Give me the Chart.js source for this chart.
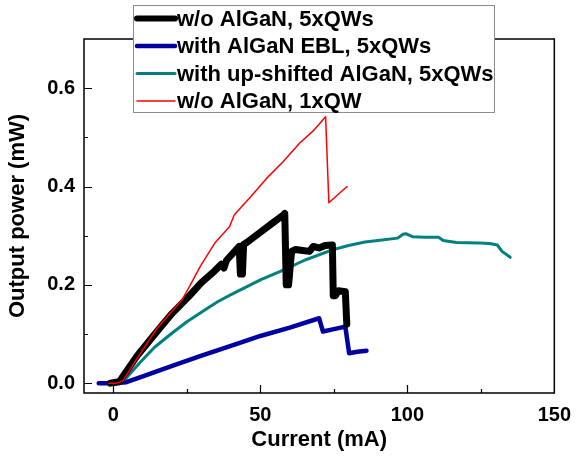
<!DOCTYPE html>
<html><head><meta charset="utf-8">
<script src="https://cdn.jsdelivr.net/npm/chart.js@4/dist/chart.umd.min.js"></script>
<style>html,body{margin:0;padding:0;background:#fff;}</style>
</head><body>
<canvas id="c" width="581" height="460"></canvas>
<script>
const seriesLabels = ['w/o AlGaN, 5xQWs', 'with AlGaN EBL, 5xQWs', 'with up-shifted AlGaN, 5xQWs', 'w/o AlGaN, 1xQW'];
const seriesColors = ['#000000', '#0000a0', '#008080', '#ff0000'];

const blackCurrent = [-1, 2, 3.3, 8, 14.4, 20, 25.6, 30, 34.4, 36.7, 37.6, 38.5, 42.8, 43.2, 43.9, 44.3, 45.6, 50, 54, 57.8, 58.3, 58.8, 59.6, 60.6, 62, 64.4, 66.7, 68, 70, 72, 74.5, 74.8, 75.5, 76.5, 78.9, 79.4];
const blackPower   = [0, 0.003, 0.014, 0.055, 0.102, 0.142, 0.176, 0.205, 0.228, 0.242, 0.234, 0.25, 0.278, 0.222, 0.222, 0.282, 0.287, 0.307, 0.325, 0.342, 0.345, 0.2, 0.2, 0.268, 0.272, 0.27, 0.268, 0.278, 0.275, 0.28, 0.281, 0.178, 0.178, 0.188, 0.186, 0.12];

const blueCurrent = [-5, 0, 4.4, 10, 20, 30, 42, 50, 60, 70, 71.3, 75, 78.9, 80.2, 83, 86.1];
const bluePower   = [0, 0, 0.002, 0.014, 0.035, 0.056, 0.08, 0.096, 0.113, 0.132, 0.105, 0.11, 0.115, 0.061, 0.064, 0.066];

const tealCurrent = [0, 2, 4, 8.9, 14, 20, 25, 31.1, 35.6, 40, 45.6, 50, 57.8, 65, 74.5, 80, 85.6, 90, 96.7, 98.5, 99.5, 101.7, 106, 110.6, 112.2, 116.7, 124.4, 128, 130.6, 132.2, 135];
const tealPower   = [0, 0.002, 0.008, 0.041, 0.073, 0.102, 0.125, 0.149, 0.166, 0.18, 0.197, 0.21, 0.23, 0.25, 0.271, 0.28, 0.287, 0.29, 0.295, 0.303, 0.304, 0.298, 0.297, 0.297, 0.29, 0.286, 0.285, 0.284, 0.281, 0.268, 0.256];

const redCurrent = [-1.5, 1, 3.3, 8, 14.4, 19, 23.3, 26, 29.5, 34.5, 39.5, 41.1, 46.7, 52.2, 57.8, 63.3, 67.8, 72.2, 73.3, 79.5];
const redPower   = [0, 0, 0.005, 0.05, 0.108, 0.14, 0.169, 0.198, 0.237, 0.285, 0.318, 0.342, 0.379, 0.417, 0.451, 0.488, 0.512, 0.542, 0.367, 0.40];

const xTickLabels = ['0', '50', '100', '150'];
const yTickLabels = ['0.0', '0.2', '0.4', '0.6'];

const FONT = '"Liberation Sans", Arial, sans-serif';
const widths = [7, 4.5, 3, 1.5];

function pts(xs, ys) { return xs.map((x, i) => ({ x: x, y: ys[i] })); }
const curves = [pts(blackCurrent, blackPower), pts(blueCurrent, bluePower), pts(tealCurrent, tealPower), pts(redCurrent, redPower)];
const drawOrder = [2, 3, 4, 1];

const frameTicks = {
  id: 'frameTicks',
  beforeDatasetsDraw(chart) {
    const { ctx, chartArea: a, scales: { x, y } } = chart;
    ctx.save();
    ctx.strokeStyle = '#000';
    ctx.lineWidth = 1.5;
    ctx.strokeRect(a.left, a.top, a.right - a.left, a.bottom - a.top);
    ctx.lineWidth = 1.2;
    ctx.beginPath();
    x.ticks.forEach(t => {
      if (t.value <= x.min || t.value >= x.max) return;
      const px = Math.round(x.getPixelForValue(t.value)) + 0.5;
      const L = (Math.round(t.value) % 50 === 0) ? 8 : 4;
      ctx.moveTo(px, a.bottom); ctx.lineTo(px, a.bottom - L);
    });
    y.ticks.forEach(t => {
      if (t.value <= y.min || t.value > 0.65) return;
      const py = Math.round(y.getPixelForValue(t.value)) + 0.5;
      const L = (Math.round(t.value * 10) % 2 === 0) ? 8 : 4;
      ctx.moveTo(a.left, py); ctx.lineTo(a.left + L, py);
    });
    ctx.stroke();
    ctx.restore();
  }
};

const boxLegend = {
  id: 'boxLegend',
  afterDraw(chart) {
    const ctx = chart.ctx;
    const x0 = 133, y0 = 5, w = 361, h = 107;
    ctx.save();
    ctx.fillStyle = '#fff';
    ctx.fillRect(x0, y0, w, h);
    ctx.strokeStyle = '#8c8c8c';
    ctx.lineWidth = 1;
    ctx.strokeRect(x0 + 0.5, y0 + 0.5, w, h);
    ctx.font = 'bold 22px ' + FONT;
    ctx.textBaseline = 'middle';
    ctx.textAlign = 'left';
    const rows = [18.5, 46, 73.5, 101];
    chart.data.datasets.forEach((ds, i) => {
      const yy = rows[i];
      ctx.strokeStyle = ds.borderColor;
      ctx.lineWidth = Math.min(ds.borderWidth, 6);
      ctx.lineCap = 'round';
      ctx.beginPath();
      ctx.moveTo(137, yy); ctx.lineTo(175, yy);
      ctx.stroke();
      ctx.fillStyle = '#000';
      ctx.fillText(ds.label, 177, yy + 1);
    });
    ctx.restore();
  }
};

new Chart(document.getElementById('c'), {
  type: 'line',
  data: {
    datasets: curves.map((d, i) => ({
      label: seriesLabels[i],
      data: d,
      borderColor: seriesColors[i],
      backgroundColor: seriesColors[i],
      borderWidth: widths[i],
      pointRadius: 0,
      tension: 0,
      fill: false,
      borderJoinStyle: 'round',
      borderCapStyle: 'round',
      order: drawOrder[i]
    }))
  },
  options: {
    responsive: false,
    animation: false,
    events: [],
    layout: { padding: { top: 39, right: 18, left: 0, bottom: 0 } },
    plugins: { legend: { display: false }, tooltip: { enabled: false } },
    scales: {
      x: {
        type: 'linear', min: -10, max: 150,
        afterFit(s) { s.height = 67; },
        grid: { display: false, drawTicks: false },
        border: { display: false },
        ticks: {
          stepSize: 25, includeBounds: false, autoSkip: false, maxRotation: 0, padding: 10,
          color: '#000', font: { family: FONT, size: 20, weight: 'bold' },
          callback: v => { const s = String(Math.round(v)); return xTickLabels.includes(s) ? s : ''; }
        },
        title: { display: true, text: 'Current (mA)', color: '#000', padding: { top: 0, bottom: 7 },
          font: { family: FONT, size: 22, weight: 'bold' } }
      },
      y: {
        type: 'linear', min: -0.02, max: 0.7,
        afterFit(s) { s.width = 84; },
        grid: { display: false, drawTicks: false },
        border: { display: false },
        ticks: {
          stepSize: 0.1, includeBounds: false, autoSkip: false, padding: 9,
          color: '#000', font: { family: FONT, size: 20, weight: 'bold' },
          callback: v => { const s = (Math.round(v * 10) / 10).toFixed(1); return yTickLabels.includes(s) && v < 0.65 ? s : ''; }
        },
        title: { display: true, text: 'Output power (mW)', color: '#000', padding: { top: 5, bottom: 0 },
          font: { family: FONT, size: 22, weight: 'bold' } }
      }
    }
  },
  plugins: [frameTicks, boxLegend]
});
</script>
</body></html>
